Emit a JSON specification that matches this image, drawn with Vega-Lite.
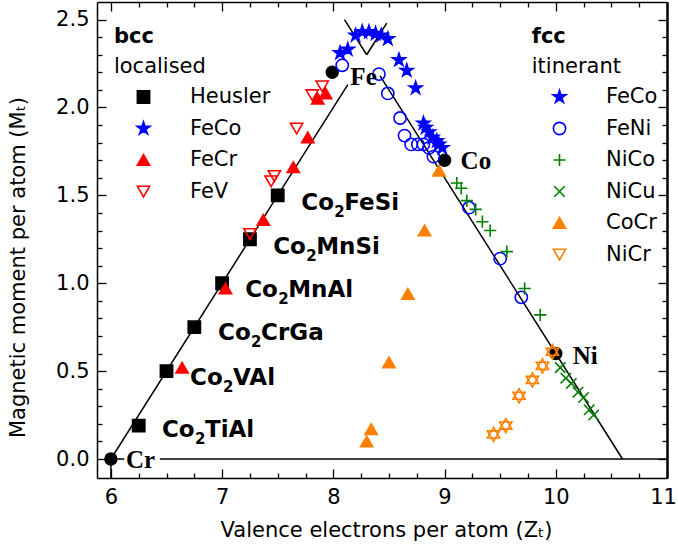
{
  "$schema": "https://vega.github.io/schema/vega-lite/v6.json",
  "width": 570,
  "height": 476,
  "autosize": {"type": "none"},
  "padding": {"left": 97, "top": 2, "right": 11, "bottom": 71},
  "background": "white",
  "config": {
    "view": {"stroke": null},
    "axis": {
      "labelFont": "DejaVu Sans", "labelFontSize": 21, "labelColor": "black",
      "titleFont": "DejaVu Sans", "titleFontSize": 21, "titleFontWeight": "normal", "titleColor": "black",
      "tickColor": "black", "tickWidth": 1.3, "domainColor": "black", "domainWidth": 1.5,
      "grid": false, "labelOverlap": false, "labelFlush": false
    },
    "legend": {
      "labelFont": "DejaVu Sans", "labelFontSize": 21, "labelColor": "black", "labelLimit": 300,
      "symbolSize": 150, "symbolStrokeWidth": 1.6, "rowPadding": 9.5, "labelOffset": 36, "padding": 0
    }
  },
  "datasets": {
    "segments": [
      {"x": 6, "y": 0, "x2": 8.13, "y2": 2.13},
      {"x": 8.3, "y": 2.3, "x2": 8.48, "y2": 2.48},
      {"x": 8.1, "y": 2.5, "x2": 8.3, "y2": 2.3},
      {"x": 8.42, "y": 2.18, "x2": 10.6, "y2": 0},
      {"x": 6.44, "y": 0, "x2": 11.0, "y2": 0},
      {"x": 6.0, "y": 0, "x2": 6.12, "y2": 0},
      {"x": 6.0, "y": 0, "x2": 6.0, "y2": -0.108}
    ],
    "elements": [
      {"x": 6.0, "y": 0.0},
      {"x": 7.99, "y": 2.2},
      {"x": 9.0, "y": 1.7},
      {"x": 10.0, "y": 0.6}
    ],
    "elementLabels": [
      {"x": 6.135, "y": -0.006, "t": "Cr"},
      {"x": 8.153, "y": 2.175, "t": "Fe"},
      {"x": 9.144, "y": 1.697, "t": "Co"},
      {"x": 10.153, "y": 0.587, "t": "Ni"}
    ],
    "heuslerLabels": [
      {"x": 7.712, "y": 1.458, "a": "Co", "b": "2", "c": "FeSi"},
      {"x": 7.459, "y": 1.207, "a": "Co", "b": "2", "c": "MnSi"},
      {"x": 7.207, "y": 0.962, "a": "Co", "b": "2", "c": "MnAl"},
      {"x": 6.964, "y": 0.718, "a": "Co", "b": "2", "c": "CrGa"},
      {"x": 6.712, "y": 0.461, "a": "Co", "b": "2", "c": "VAl"},
      {"x": 6.459, "y": 0.165, "a": "Co", "b": "2", "c": "TiAl"}
    ],
    "headBold": [
      {"x": 6.027, "y": 2.403, "t": "bcc"},
      {"x": 9.784, "y": 2.403, "t": "fcc"}
    ],
    "headNormal": [
      {"x": 6.027, "y": 2.232, "t": "localised"},
      {"x": 9.784, "y": 2.232, "t": "itinerant"}
    ],
    "bcc": [
      {"s": "Heusler", "x": 6.25, "y": 0.19},
      {"s": "Heusler", "x": 6.5, "y": 0.5},
      {"s": "Heusler", "x": 6.75, "y": 0.75},
      {"s": "Heusler", "x": 7.0, "y": 1.0},
      {"s": "Heusler", "x": 7.25, "y": 1.25},
      {"s": "Heusler", "x": 7.5, "y": 1.5},
      {"s": "FeCo", "x": 8.06, "y": 2.31},
      {"s": "FeCo", "x": 8.13, "y": 2.33},
      {"s": "FeCo", "x": 8.2, "y": 2.41},
      {"s": "FeCo", "x": 8.26, "y": 2.43},
      {"s": "FeCo", "x": 8.32, "y": 2.43},
      {"s": "FeCo", "x": 8.38, "y": 2.42},
      {"s": "FeV", "x": 7.81, "y": 2.07},
      {"s": "FeV", "x": 7.9, "y": 2.12},
      {"s": "FeV", "x": 7.67, "y": 1.88},
      {"s": "FeV", "x": 7.44, "y": 1.58},
      {"s": "FeV", "x": 7.47, "y": 1.61},
      {"s": "FeV", "x": 7.25, "y": 1.28},
      {"s": "FeCr", "x": 7.86, "y": 2.05},
      {"s": "FeCr", "x": 7.93, "y": 2.08},
      {"s": "FeCr", "x": 7.77, "y": 1.83},
      {"s": "FeCr", "x": 7.64, "y": 1.66},
      {"s": "FeCr", "x": 7.37, "y": 1.36},
      {"s": "FeCr", "x": 7.03, "y": 0.97},
      {"s": "FeCr", "x": 6.64, "y": 0.52}
    ],
    "fcc": [
      {"s": "FeCo", "x": 8.43, "y": 2.41},
      {"s": "FeCo", "x": 8.49, "y": 2.39},
      {"s": "FeCo", "x": 8.59, "y": 2.27},
      {"s": "FeCo", "x": 8.66, "y": 2.21},
      {"s": "FeCo", "x": 8.74, "y": 2.11},
      {"s": "FeCo", "x": 8.81, "y": 1.91},
      {"s": "FeCo", "x": 8.83, "y": 1.885},
      {"s": "FeCo", "x": 8.86, "y": 1.86},
      {"s": "FeCo", "x": 8.89, "y": 1.83},
      {"s": "FeCo", "x": 8.93, "y": 1.81},
      {"s": "FeCo", "x": 8.95, "y": 1.79},
      {"s": "FeCo", "x": 8.98, "y": 1.77},
      {"s": "FeNi", "x": 8.08, "y": 2.24},
      {"s": "FeNi", "x": 8.41, "y": 2.19},
      {"s": "FeNi", "x": 8.49, "y": 2.08},
      {"s": "FeNi", "x": 8.6, "y": 1.94},
      {"s": "FeNi", "x": 8.64, "y": 1.84},
      {"s": "FeNi", "x": 8.7, "y": 1.79},
      {"s": "FeNi", "x": 8.76, "y": 1.79},
      {"s": "FeNi", "x": 8.81, "y": 1.79},
      {"s": "FeNi", "x": 8.86, "y": 1.77},
      {"s": "FeNi", "x": 8.9, "y": 1.72},
      {"s": "FeNi", "x": 9.22, "y": 1.43},
      {"s": "FeNi", "x": 9.5, "y": 1.14},
      {"s": "FeNi", "x": 9.69, "y": 0.92},
      {"s": "NiCo", "x": 9.11, "y": 1.57},
      {"s": "NiCo", "x": 9.15, "y": 1.54},
      {"s": "NiCo", "x": 9.2, "y": 1.47},
      {"s": "NiCo", "x": 9.28, "y": 1.42},
      {"s": "NiCo", "x": 9.34, "y": 1.35},
      {"s": "NiCo", "x": 9.41, "y": 1.3},
      {"s": "NiCo", "x": 9.56, "y": 1.18},
      {"s": "NiCo", "x": 9.72, "y": 0.97},
      {"s": "NiCo", "x": 9.86, "y": 0.82},
      {"s": "NiCu", "x": 10.04, "y": 0.52},
      {"s": "NiCu", "x": 10.09, "y": 0.46},
      {"s": "NiCu", "x": 10.14, "y": 0.43},
      {"s": "NiCu", "x": 10.2, "y": 0.38},
      {"s": "NiCu", "x": 10.25, "y": 0.35},
      {"s": "NiCu", "x": 10.3, "y": 0.28},
      {"s": "NiCu", "x": 10.34, "y": 0.25},
      {"s": "CoCr", "x": 8.95, "y": 1.64},
      {"s": "CoCr", "x": 8.82, "y": 1.3},
      {"s": "CoCr", "x": 8.67, "y": 0.94},
      {"s": "CoCr", "x": 8.5, "y": 0.55},
      {"s": "CoCr", "x": 8.34, "y": 0.17},
      {"s": "CoCr", "x": 8.3, "y": 0.1},
      {"s": "NiCr", "x": 9.97, "y": 0.6},
      {"s": "NiCr", "x": 9.88, "y": 0.52},
      {"s": "NiCr", "x": 9.79, "y": 0.44},
      {"s": "NiCr", "x": 9.67, "y": 0.35},
      {"s": "NiCr", "x": 9.55, "y": 0.18},
      {"s": "NiCr", "x": 9.44, "y": 0.13}
    ]
  },
  "encoding": {
    "x": {"field": "x", "type": "quantitative", "scale": {"domain": [5.875, 11.0], "nice": false, "zero": false}, "axis": null},
    "y": {"field": "y", "type": "quantitative", "scale": {"domain": [-0.108, 2.6], "nice": false, "zero": false}, "axis": null}
  },
  "layer": [
    {
      "data": {"name": "segments"},
      "mark": {"type": "rule", "color": "black", "strokeWidth": 1.5, "clip": true},
      "encoding": {
        "x": {"field": "x", "type": "quantitative", "scale": {"domain": [5.875, 11.0], "nice": false, "zero": false},
          "axis": {"orient": "bottom", "values": [6, 6.25, 6.5, 6.75, 7, 7.25, 7.5, 7.75, 8, 8.25, 8.5, 8.75, 9, 9.25, 9.5, 9.75, 10, 10.25, 10.5, 10.75, 11],
            "labelExpr": "abs(datum.value - round(datum.value)) < 0.001 ? format(datum.value, 'd') : ''",
            "labelOffset": {"condition": {"test": "datum.value > 10.9", "value": -4}, "value": 0},
            "tickSize": {"condition": {"test": "abs(datum.value - round(datum.value)) < 0.001", "value": -9}, "value": -5},
            "labelPadding": 17, "title": "Valence electrons per atom (Zₜ)", "titleX": 289, "titleY": 52, "titleBaseline": "middle"}},
        "y": {"field": "y", "type": "quantitative", "scale": {"domain": [-0.108, 2.6], "nice": false, "zero": false},
          "axis": {"orient": "left", "values": [0, 0.1, 0.2, 0.3, 0.4, 0.5, 0.6, 0.7, 0.8, 0.9, 1.0, 1.1, 1.2, 1.3, 1.4, 1.5, 1.6, 1.7, 1.8, 1.9, 2.0, 2.1, 2.2, 2.3, 2.4, 2.5],
            "labelExpr": "abs(datum.value*2 - round(datum.value*2)) < 0.001 ? format(datum.value, '.1f') : ''",
            "tickSize": {"condition": {"test": "abs(datum.value*2 - round(datum.value*2)) < 0.001", "value": -9}, "value": -5},
            "labelPadding": 17, "title": "Magnetic moment per atom  (Mₜ)", "titleX": -79, "titleY": 265, "titleAngle": -90, "titleBaseline": "middle", "titleAlign": "center"}},
        "x2": {"field": "x2"},
        "y2": {"field": "y2"}
      }
    },
    {
      "data": {"name": "elements"},
      "mark": {"type": "point", "filled": true, "color": "black", "size": 180, "opacity": 1},
      "encoding": {
        "x": {"field": "x", "type": "quantitative", "scale": {"domain": [5.875, 11.0], "nice": false, "zero": false},
          "axis": {"orient": "top", "values": [6, 6.25, 6.5, 6.75, 7, 7.25, 7.5, 7.75, 8, 8.25, 8.5, 8.75, 9, 9.25, 9.5, 9.75, 10, 10.25, 10.5, 10.75, 11],
            "labels": false, "title": null,
            "tickSize": {"condition": {"test": "abs(datum.value - round(datum.value)) < 0.001", "value": -9}, "value": -5}}},
        "y": {"field": "y", "type": "quantitative", "scale": {"domain": [-0.108, 2.6], "nice": false, "zero": false},
          "axis": {"orient": "right", "values": [0, 0.1, 0.2, 0.3, 0.4, 0.5, 0.6, 0.7, 0.8, 0.9, 1.0, 1.1, 1.2, 1.3, 1.4, 1.5, 1.6, 1.7, 1.8, 1.9, 2.0, 2.1, 2.2, 2.3, 2.4, 2.5],
            "labels": false, "title": null, "domainWidth": 2.5,
            "tickSize": {"condition": {"test": "abs(datum.value*2 - round(datum.value*2)) < 0.001", "value": -9}, "value": -5}}}
      }
    },
    {
      "data": {"name": "bcc"},
      "mark": {"type": "point", "size": 150, "opacity": 1, "strokeWidth": 1.6},
      "encoding": {
        "shape": {"field": "s", "type": "nominal",
          "scale": {"domain": ["Heusler", "FeCo", "FeCr", "FeV"], "range": ["square", "M0,-1.1L0.247,-0.34L1.046,-0.34L0.399,0.13L0.647,0.89L0,0.42L-0.647,0.89L-0.399,0.13L-1.046,-0.34L-0.247,-0.34Z", "triangle-up", "triangle-down"]},
          "legend": {"orient": "none", "legendX": 36, "legendY": 84.5, "title": null}},
        "fill": {"field": "s", "type": "nominal",
          "scale": {"domain": ["Heusler", "FeCo", "FeCr", "FeV"], "range": ["black", "#0000ff", "#ff0000", "transparent"]},
          "legend": {"orient": "none", "legendX": 36, "legendY": 84.5, "title": null}},
        "stroke": {"field": "s", "type": "nominal",
          "scale": {"domain": ["Heusler", "FeCo", "FeCr", "FeV"], "range": ["black", "#0000ff", "#ff0000", "#ff0000"]},
          "legend": {"orient": "none", "legendX": 36, "legendY": 84.5, "title": null}}
      }
    },
    {
      "data": {"name": "fcc"},
      "mark": {"type": "point", "size": 150, "opacity": 1, "strokeWidth": 1.6},
      "encoding": {
        "shape": {"field": "s", "type": "nominal",
          "scale": {"domain": ["FeCo", "FeNi", "NiCo", "NiCu", "CoCr", "NiCr"], "range": ["M0,-1.1L0.247,-0.34L1.046,-0.34L0.399,0.13L0.647,0.89L0,0.42L-0.647,0.89L-0.399,0.13L-1.046,-0.34L-0.247,-0.34Z", "circle", "M-1,0L1,0M0,-1L0,1", "M-0.85,-0.85L0.85,0.85M-0.85,0.85L0.85,-0.85", "triangle-up", "triangle-down"]},
          "legend": {"orient": "none", "legendX": 452, "legendY": 84.5, "title": null}},
        "fill": {"field": "s", "type": "nominal",
          "scale": {"domain": ["FeCo", "FeNi", "NiCo", "NiCu", "CoCr", "NiCr"], "range": ["#0000ff", "transparent", "transparent", "transparent", "#ff8000", "transparent"]},
          "legend": {"orient": "none", "legendX": 452, "legendY": 84.5, "title": null}},
        "stroke": {"field": "s", "type": "nominal",
          "scale": {"domain": ["FeCo", "FeNi", "NiCo", "NiCu", "CoCr", "NiCr"], "range": ["#0000ff", "#0000ff", "#008000", "#008000", "#ff8000", "#ff8000"]},
          "legend": {"orient": "none", "legendX": 452, "legendY": 84.5, "title": null}}
      }
    },
    {
      "data": {"name": "fcc"},
      "transform": [{"filter": "datum.s === 'NiCr'"}],
      "mark": {"type": "point", "size": 150, "opacity": 1, "strokeWidth": 1.6, "filled": false, "stroke": "#ff8000", "shape": "M0,-1.443L-1,0.289L1,0.289Z"}
    },
    {
      "data": {"name": "elementLabels"},
      "mark": {"type": "text", "font": "Liberation Serif", "fontSize": 25, "fontWeight": "bold", "align": "left", "baseline": "middle", "color": "black"},
      "encoding": {"text": {"field": "t"}}
    },
    {
      "data": {"name": "heuslerLabels"},
      "mark": {"type": "text", "font": "DejaVu Sans", "fontSize": 23, "fontWeight": "bold", "align": "left", "baseline": "middle", "color": "black"},
      "encoding": {"text": {"field": "a"}}
    },
    {
      "data": {"name": "heuslerLabels"},
      "mark": {"type": "text", "font": "DejaVu Sans", "fontSize": 15, "fontWeight": "bold", "align": "left", "baseline": "middle", "color": "black", "dx": 33, "dy": 9},
      "encoding": {"text": {"field": "b"}}
    },
    {
      "data": {"name": "heuslerLabels"},
      "mark": {"type": "text", "font": "DejaVu Sans", "fontSize": 23, "fontWeight": "bold", "align": "left", "baseline": "middle", "color": "black", "dx": 43},
      "encoding": {"text": {"field": "c"}}
    },
    {
      "data": {"name": "headBold"},
      "mark": {"type": "text", "font": "DejaVu Sans", "fontSize": 21, "fontWeight": "bold", "align": "left", "baseline": "middle", "color": "black"},
      "encoding": {"text": {"field": "t"}}
    },
    {
      "data": {"name": "headNormal"},
      "mark": {"type": "text", "font": "DejaVu Sans", "fontSize": 21, "align": "left", "baseline": "middle", "color": "black"},
      "encoding": {"text": {"field": "t"}}
    }
  ],
  "resolve": {
    "scale": {"shape": "independent", "fill": "independent", "stroke": "independent"},
    "axis": {"x": "independent", "y": "independent"}
  }
}
